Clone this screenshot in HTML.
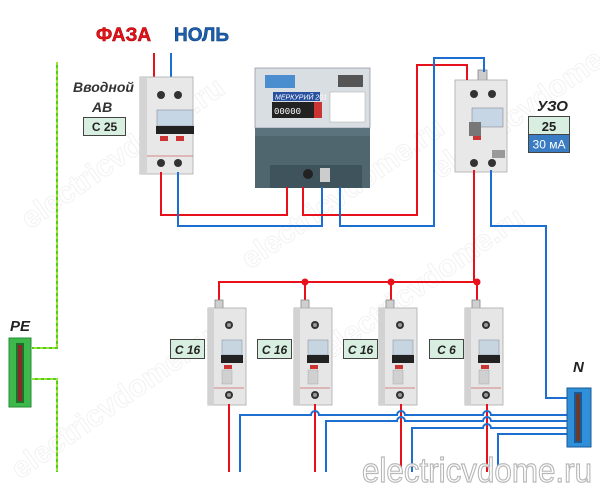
<!DOCTYPE html>
<html><head><meta charset="utf-8"><style>
html,body{margin:0;padding:0;background:#fff;}
svg{display:block;font-family:"Liberation Sans",sans-serif;}
</style></head><body>
<svg width="600" height="492" viewBox="0 0 600 492" xmlns="http://www.w3.org/2000/svg">
<defs>
<g id="brk">
  <rect x="7" y="-8" width="8" height="12" fill="#cfcfcf" stroke="#888" stroke-width="0.8"/>
  <rect x="0" y="0" width="38" height="97" fill="#e6e6e6" stroke="#aaa" stroke-width="0.8"/>
  <rect x="0" y="0" width="6" height="97" fill="#d2d2d2"/>
  <circle cx="21" cy="17" r="4" fill="#333"/><circle cx="21" cy="17" r="2" fill="#999"/>
  <rect x="14" y="32" width="20" height="15" fill="#c7d5e0" stroke="#8a9aa8" stroke-width="0.6"/>
  <rect x="13" y="47" width="22" height="8" fill="#222"/>
  <rect x="16" y="57" width="8" height="4" fill="#c33"/>
  <rect x="14" y="62" width="10" height="14" fill="#d0d0d0" stroke="#aaa" stroke-width="0.5"/>
  <line x1="6" y1="80" x2="36" y2="80" stroke="#c66" stroke-width="0.8"/>
  <circle cx="21" cy="87" r="4" fill="#333"/><circle cx="21" cy="87" r="2" fill="#999"/>
</g>
</defs>

<!-- watermarks -->
<g fill="none" stroke="#f2f2f2" stroke-width="1" font-size="30" font-weight="bold">
  <text x="0" y="0" transform="translate(30,230) rotate(-35)">electricvdome.ru</text>
  <text x="0" y="0" transform="translate(250,270) rotate(-35)">electricvdome.ru</text>
  <text x="0" y="0" transform="translate(440,180) rotate(-35)">electricvdome.ru</text>
  <text x="0" y="0" transform="translate(20,480) rotate(-35)">electricvdome.ru</text>
  <text x="0" y="0" transform="translate(330,360) rotate(-35)">electricvdome.ru</text>
</g>

<!-- Titles -->
<text x="96" y="41" font-size="19" font-weight="bold" fill="#e8101a" stroke="#900" stroke-width="0.5">ФАЗА</text>
<text x="174" y="41" font-size="19" font-weight="bold" fill="#1c5fae" stroke="#0a3a70" stroke-width="0.5">НОЛЬ</text>

<!-- PE green line -->
<g stroke="#55cc22" stroke-width="2" fill="none">
  <polyline points="57,62 57,348 32,348"/>
  <polyline points="32,379 57,379 57,472"/>
</g>
<g stroke="#ddff44" stroke-width="1" stroke-dasharray="3,3" fill="none">
  <polyline points="57,62 57,348 32,348"/>
  <polyline points="32,379 57,379 57,472"/>
</g>
<text x="10" y="331" font-size="15" font-weight="bold" font-style="italic" fill="#222">PE</text>
<rect x="9" y="338" width="22" height="69" fill="#3cb94a" stroke="#2a8a35"/>
<rect x="16" y="343" width="8" height="60" fill="#1f6e29"/>
<rect x="18" y="345" width="4" height="56" fill="#8a2a2a"/>

<!-- Input breaker -->
<line x1="154" y1="53" x2="154" y2="82" stroke="#e8101a" stroke-width="2"/>
<line x1="171" y1="53" x2="171" y2="82" stroke="#1c6fd0" stroke-width="2"/>
<rect x="140" y="77" width="53" height="97" fill="#e8e8e8" stroke="#aaa" stroke-width="0.8"/>
<rect x="140" y="77" width="7" height="97" fill="#d4d4d4"/>
<circle cx="161" cy="95" r="4" fill="#333"/><circle cx="178" cy="95" r="4" fill="#333"/>
<rect x="157" y="110" width="36" height="16" fill="#c6d6e4" stroke="#889" stroke-width="0.6"/>
<rect x="156" y="126" width="38" height="8" fill="#222"/>
<rect x="160" y="136" width="8" height="5" fill="#c33"/><rect x="176" y="136" width="8" height="5" fill="#c33"/>
<line x1="147" y1="156" x2="193" y2="156" stroke="#c66" stroke-width="0.8"/>
<circle cx="161" cy="163" r="4" fill="#333"/><circle cx="178" cy="163" r="4" fill="#333"/>
<text x="73" y="92" font-size="14" font-weight="bold" font-style="italic" fill="#333">Вводной</text>
<text x="92" y="112" font-size="14" font-weight="bold" font-style="italic" fill="#333">АВ</text>
<rect x="83.5" y="117.5" width="42" height="18" fill="#d8eee0" stroke="#444"/>
<text x="104.5" y="131" font-size="12" font-weight="bold" fill="#222" text-anchor="middle">C 25</text>

<!-- Meter -->
<rect x="255" y="68" width="115" height="120" fill="#50666f"/>
<rect x="255" y="68" width="115" height="60" fill="#d8dee2" stroke="#99a" stroke-width="0.8"/>
<rect x="265" y="75" width="30" height="13" fill="#4a8ed0"/>
<rect x="338" y="75" width="25" height="12" fill="#555"/>
<rect x="273" y="92" width="47" height="9" fill="#2850a0"/>
<text x="275" y="99.5" font-size="7" fill="#fff" font-style="italic">МЕРКУРИЙ 201</text>
<rect x="272" y="102" width="50" height="16" fill="#222"/>
<text x="274" y="114" fill="#fff" font-size="9" font-family="Liberation Mono">00000</text>
<rect x="314" y="102" width="8" height="16" fill="#c33"/>
<rect x="330" y="92" width="35" height="30" fill="#fff" stroke="#aaa" stroke-width="0.5"/>
<rect x="255" y="128" width="115" height="8" fill="#5b737c"/>
<rect x="270" y="165" width="92" height="23" fill="#3e535b"/>
<circle cx="308" cy="174" r="5" fill="#222"/>
<rect x="320" y="168" width="10" height="14" fill="#ccc"/>

<!-- UZO -->
<rect x="478" y="70" width="9" height="12" fill="#ccc" stroke="#888" stroke-width="0.8"/>
<rect x="455" y="80" width="52" height="92" fill="#e8e8e8" stroke="#aaa" stroke-width="0.8"/>
<circle cx="474" cy="94" r="4" fill="#333"/><circle cx="492" cy="94" r="4" fill="#333"/>
<rect x="472" y="108" width="31" height="19" fill="#c6d6e4" stroke="#889" stroke-width="0.6"/>
<rect x="469" y="122" width="12" height="14" fill="#777"/>
<rect x="473" y="136" width="8" height="4" fill="#c33"/>
<rect x="492" y="150" width="13" height="8" fill="#999"/>
<circle cx="474" cy="163" r="4" fill="#333"/><circle cx="492" cy="163" r="4" fill="#333"/>
<text x="537" y="111" font-size="15" font-weight="bold" font-style="italic" fill="#222">УЗО</text>
<rect x="528.5" y="116.5" width="41" height="18" fill="#d8eee0" stroke="#444"/>
<text x="549" y="131" font-size="13" fill="#222" text-anchor="middle" font-weight="bold">25</text>
<rect x="528.5" y="134.5" width="41" height="18" fill="#3a7cc4" stroke="#444"/>
<text x="549" y="148.5" font-size="12" fill="#fff" text-anchor="middle">30 мА</text>

<!-- top wiring -->
<g fill="none" stroke-width="2">
  <polyline stroke="#e8101a" points="161,172 161,215 287,215 287,187"/>
  <polyline stroke="#1c6fd0" points="178,172 178,226 322,226 322,187"/>
  <polyline stroke="#e8101a" points="303,187 303,215 417,215 417,65 467,65 467,80"/>
  <polyline stroke="#1c6fd0" points="340,187 340,226 434,226 434,58 484,58 484,72"/>
  <polyline stroke="#e8101a" points="474,170 474,282"/>
  <polyline stroke="#1c6fd0" points="491,170 491,226 546,226 546,398 568,398"/>
  <polyline stroke="#e8101a" points="219,310 219,282 477,282"/>
  <line stroke="#e8101a" x1="305" y1="282" x2="305" y2="310"/>
  <line stroke="#e8101a" x1="391" y1="282" x2="391" y2="310"/>
  <line stroke="#e8101a" x1="477" y1="282" x2="477" y2="310"/>
</g>
<g fill="#e8101a"><circle cx="305" cy="282" r="3.5"/><circle cx="391" cy="282" r="3.5"/><circle cx="477" cy="282" r="3.5"/></g>

<!-- group breakers -->
<use href="#brk" x="208" y="308"/>
<use href="#brk" x="294" y="308"/>
<use href="#brk" x="379" y="308"/>
<use href="#brk" x="465" y="308"/>
<g font-size="12" font-weight="bold" font-style="italic" fill="#222" text-anchor="middle">
  <rect x="170.5" y="339.5" width="34" height="19" fill="#d8eee0" stroke="#444"/><text x="187.5" y="354">C 16</text>
  <rect x="257.5" y="339.5" width="34" height="19" fill="#d8eee0" stroke="#444"/><text x="274.5" y="354">C 16</text>
  <rect x="343.5" y="339.5" width="34" height="19" fill="#d8eee0" stroke="#444"/><text x="360.5" y="354">C 16</text>
  <rect x="429.5" y="339.5" width="34" height="19" fill="#d8eee0" stroke="#444"/><text x="446.5" y="354">C 6</text>
</g>

<!-- bottom wiring -->
<g fill="none" stroke-width="2">
  <line stroke="#e8101a" x1="229" y1="404" x2="229" y2="472"/>
  <line stroke="#e8101a" x1="315" y1="404" x2="315" y2="472"/>
  <line stroke="#e8101a" x1="401" y1="404" x2="401" y2="472"/>
  <line stroke="#e8101a" x1="487" y1="404" x2="487" y2="472"/>
  <path stroke="#1c6fd0" d="M240,472 V415 H311 a4,4 0 0 1 8,0 H397 a4,4 0 0 1 8,0 H483 a4,4 0 0 1 8,0 H568"/>
  <path stroke="#1c6fd0" d="M326,472 V421 H397 a4,4 0 0 1 8,0 H483 a4,4 0 0 1 8,0 H568"/>
  <path stroke="#1c6fd0" d="M412,472 V428 H483 a4,4 0 0 1 8,0 H568"/>
  <path stroke="#1c6fd0" d="M498,472 V434 H568"/>
</g>

<!-- N bus -->
<text x="573" y="372" font-size="15" font-weight="bold" font-style="italic" fill="#222">N</text>
<rect x="567" y="388" width="24" height="59" fill="#2f8fd8" stroke="#1a5a98"/>
<rect x="574" y="392" width="8" height="51" fill="#1a5a98"/>
<rect x="576" y="394" width="4" height="47" fill="#6a3a2a"/>

<!-- bottom watermark -->
<text x="362" y="482" font-size="34" fill="#fff" stroke="#b8b8b8" stroke-width="1.2" textLength="230" lengthAdjust="spacingAndGlyphs">electricvdome.ru</text>
</svg>
</body></html>
